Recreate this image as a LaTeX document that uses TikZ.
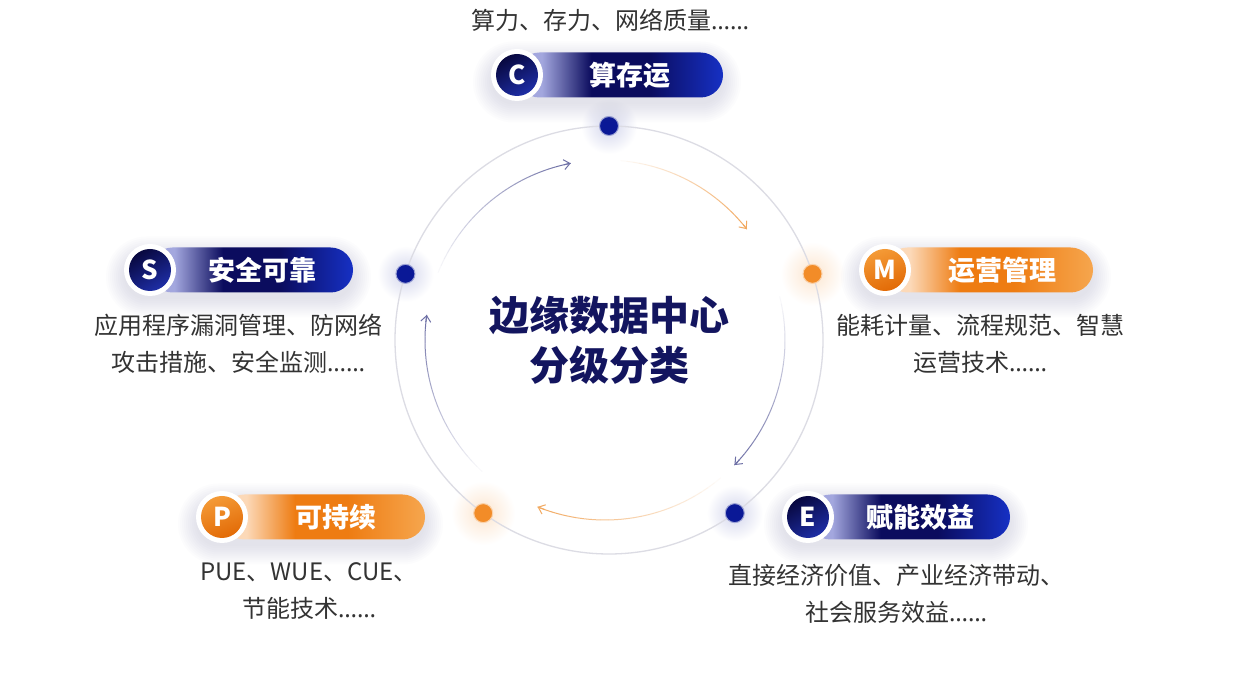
\documentclass[tikz,border=0pt]{standalone}
\usepackage{fontspec}
\setmainfont{Noto Sans CJK SC}
\newfontfamily\ellfont{Noto Sans}
\usetikzlibrary{arrows.meta}
\definecolor{bpA}{HTML}{A3A7DE}
\definecolor{bpB}{HTML}{0B0C5E}
\definecolor{bpC}{HTML}{1630C4}
\definecolor{opA}{HTML}{FCD9B8}
\definecolor{opB}{HTML}{EE7C12}
\definecolor{opC}{HTML}{F6A64E}
\definecolor{txt}{HTML}{333333}
\definecolor{ringc}{HTML}{DCDCE4}
\definecolor{arcB}{HTML}{6E70A6}
\definecolor{arcO}{HTML}{F2A960}
\definecolor{dotB}{HTML}{0A1896}
\definecolor{dotO}{HTML}{F28C28}
\definecolor{centerc}{HTML}{13155F}
\definecolor{bbA}{HTML}{1E2EA6}
\definecolor{bbB}{HTML}{08083F}
\definecolor{obA}{HTML}{F49A36}
\definecolor{obB}{HTML}{E26A06}
\definecolor{shad}{HTML}{6A6A8A}
\pgfdeclarehorizontalshading{bluepill}{100bp}{color(0bp)=(bpA); color(31bp)=(bpA); color(43bp)=(bpB); color(57bp)=(bpB); color(75bp)=(bpC); color(100bp)=(bpC)}
\pgfdeclarehorizontalshading{orangepill}{100bp}{color(0bp)=(opA); color(31bp)=(opA); color(43bp)=(opB); color(56bp)=(opB); color(75bp)=(opC); color(100bp)=(opC)}
% soft shadow behind a label: x1, ymid, x2
\newcommand\softshadow[3]{%
  \foreach \k in {0,...,9}{%
    \pgfmathsetmacro\ex{2*\k}%
    \fill[shad, opacity=0.016, rounded corners=22.5pt+\ex pt]
      ({#1-26-\ex},{#2-22.5-7-\ex}) rectangle ({#3+\ex},{#2+22.5-7+\ex});
  }%
}
\tikzset{
  badgering/.style={circle, fill=white, minimum size=52pt, inner sep=0pt},
  badgeB/.style={circle, minimum size=42pt, inner sep=0pt, top color=bbB, bottom color=bbA, shading angle=30, text=white, font=\bfseries\fontsize{26}{26}\selectfont},
  badgeO/.style={circle, minimum size=42pt, inner sep=0pt, top color=obA, bottom color=obB, shading angle=20, text=white, font=\bfseries\fontsize{26}{26}\selectfont},
  pilltext/.style={text=white, font=\bfseries\fontsize{27}{27}\selectfont, inner sep=0pt},
  desc/.style={text=txt, align=center, font=\fontsize{24}{37}\selectfont, inner sep=0pt},
  dotBs/.style={circle, fill=dotB, draw=dotB!40, line width=1pt, minimum size=19pt, inner sep=0pt},
  dotOs/.style={circle, fill=dotO, draw=dotO!40, line width=1pt, minimum size=19pt, inner sep=0pt},
}
\begin{document}
\begin{tikzpicture}[x=1pt,y=1pt]
\useasboundingbox (0,0) rectangle (1256,680);
\fill[white] (0,0) rectangle (1256,680);
% glows
\begin{scope}[shift={(609,340)}]
  \shade[inner color=dotB!18, outer color=white] (90:214) circle (28pt);
  \shade[inner color=dotB!18, outer color=white] (162:214) circle (28pt);
  \shade[inner color=dotB!18, outer color=white] (-54:214) circle (28pt);
  \shade[inner color=dotO!22, outer color=white] (18:214) circle (32pt);
  \shade[inner color=dotO!22, outer color=white] (234:214) circle (32pt);
  % outer ring
  \draw[ringc, line width=1.3pt] (0,0) circle[radius=214pt];
\end{scope}
% inner arcs
\begin{scope}[shift={(605,340)}]
\foreach \a/\b/\c in {158/101/arcB, 85/38/arcO, 14/-44/arcB, -50/-112/arcO, 227/172/arcB}{
  \foreach \i in {0,...,23}{
    \pgfmathsetmacro\s{\a+(\b-\a)*\i/24}
    \pgfmathsetmacro\e{\a+(\b-\a)*(\i+1)/24}
    \pgfmathsetmacro\op{(\i+1)/24}
    \draw[\c, line width=1pt, opacity=\op] (\s:180) arc[start angle=\s, end angle=\e, radius=180pt];
  }
  \pgfmathsetmacro\t{\b+(\a-\b)*0.04}
  \draw[\c, line width=1pt, -{Straight Barb[length=6pt,width=10pt]}] (\t:180) arc[start angle=\t, end angle=\b, radius=180pt];
}
\end{scope}
% dots
\begin{scope}[shift={(609,340)}]
  \node[dotBs] (dC) at (90:214) {};
  \node[dotOs] (dM) at (18:214) {};
  \node[dotBs] (dE) at (-54:214) {};
  \node[dotOs] (dP) at (234:214) {};
  \node[dotBs] (dS) at (162:214) {};
\end{scope}
% center text
\node[text=centerc, align=center, font=\bfseries\fontsize{40}{50}\selectfont, inner sep=0pt] (ctr) at (609,340) {边缘数据中心\\分级分类};
% C label
\softshadow{517}{605}{723}
\path[shading=bluepill, rounded corners=22.5pt] (517,582.5) rectangle (723,627.5);
\node[badgering] (cring) at (517,605) {};
\node[badgeB] (cbadge) at (517,605) {C};
\node[pilltext] (ctitle) at (630,605) {算存运};
\node[desc] (cdesc) at (610,660) {算力、存力、网络质量{\ellfont ……}};
% M label
\softshadow{885}{410}{1093}
\path[shading=orangepill, rounded corners=22.5pt] (885,387.5) rectangle (1093,432.5);
\node[badgering] (mring) at (885,410) {};
\node[badgeO] (mbadge) at (885,410) {M};
\node[pilltext] (mtitle) at (1002,410) {运营管理};
\node[desc] (mdesc) at (980,336.5) {能耗计量、流程规范、智慧\\运营技术{\ellfont ……}};
% S label
\softshadow{150}{410}{353}
\path[shading=bluepill, rounded corners=22.5pt] (150,387.5) rectangle (353,432.5);
\node[badgering] (sring) at (150,410) {};
\node[badgeB] (sbadge) at (150,410) {S};
\node[pilltext] (stitle) at (262,410) {安全可靠};
\node[desc] (sdesc) at (238,336.5) {应用程序漏洞管理、防网络\\攻击措施、安全监测{\ellfont ……}};
% P label
\softshadow{222}{163}{425}
\path[shading=orangepill, rounded corners=22.5pt] (222,140.5) rectangle (425,185.5);
\node[badgering] (pring) at (222,163) {};
\node[badgeO] (pbadge) at (222,163) {P};
\node[pilltext] (ptitle) at (336,163) {可持续};
\node[desc] (pdesc) at (309,88.5) {PUE、WUE、CUE、\\节能技术{\ellfont ……}};
% E label
\softshadow{808}{163}{1010}
\path[shading=bluepill, rounded corners=22.5pt] (808,140.5) rectangle (1010,185.5);
\node[badgering] (ering) at (808,163) {};
\node[badgeB] (ebadge) at (808,163) {E};
\node[pilltext] (etitle) at (920,163) {赋能效益};
\node[desc] (edesc) at (896,86.5) {直接经济价值、产业经济带动、\\社会服务效益{\ellfont ……}};
\end{tikzpicture}
\end{document}
